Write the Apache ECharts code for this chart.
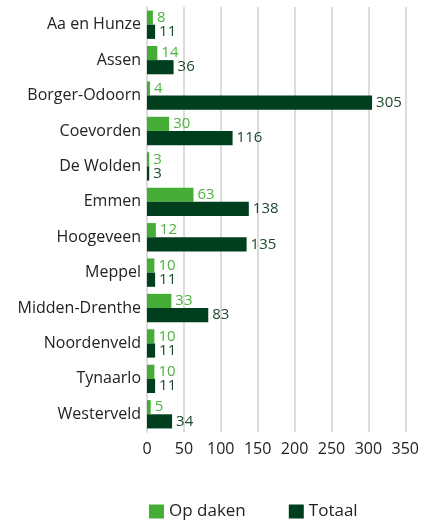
<!DOCTYPE html>
<html>
<head>
<meta charset="utf-8">
<script src="https://cdn.jsdelivr.net/npm/echarts@6/dist/echarts.min.js"></script>
<style>
  html, body { margin: 0; padding: 0; background: #fff; }
  #chart { width: 422px; height: 520px; }
</style>
</head>
<body>
<div id="chart"></div>
<script>
const gemeenten = ['Aa en Hunze', 'Assen', 'Borger-Odoorn', 'Coevorden', 'De Wolden', 'Emmen',
  'Hoogeveen', 'Meppel', 'Midden-Drenthe', 'Noordenveld', 'Tynaarlo', 'Westerveld'];
const opDaken = [8, 14, 4, 30, 3, 63, 12, 10, 33, 10, 10, 5];
const totaal = [11, 36, 305, 116, 3, 138, 135, 11, 83, 11, 11, 34];

const lightGreen = '#45ad35';
const darkGreen = '#003f1d';
const font = 'Open Sans';

const chart = echarts.init(document.getElementById('chart'));
chart.setOption({
  animation: false,
  textStyle: { fontFamily: font },
  grid: { left: 147, right: 15, top: 7, bottom: 88, containLabel: false },
  legend: {
    left: 144,
    top: 498,
    itemWidth: 15,
    itemHeight: 14,
    itemGap: 43,
    icon: 'rect',
    textStyle: { fontSize: 17, color: '#222', fontFamily: font },
    data: ['Op daken', 'Totaal']
  },
  xAxis: {
    type: 'value',
    min: 0,
    max: 350,
    interval: 50,
    axisLine: { show: false },
    axisTick: { show: false },
    axisLabel: { fontSize: 16, color: '#222', margin: 9 },
    splitLine: { lineStyle: { color: '#dcdcdc', width: 2 } }
  },
  yAxis: {
    type: 'category',
    inverse: true,
    data: gemeenten,
    axisLine: { lineStyle: { color: '#dcdcdc', width: 2 } },
    axisTick: { show: false },
    axisLabel: { fontSize: 16, color: '#222', margin: 6 }
  },
  series: [
    {
      name: 'Op daken',
      type: 'bar',
      data: opDaken,
      barGap: '0%',
      barCategoryGap: '20%',
      itemStyle: { color: lightGreen },
      label: { show: true, position: 'right', distance: 4, fontSize: 15, color: '#4cb33e' }
    },
    {
      name: 'Totaal',
      type: 'bar',
      data: totaal,
      itemStyle: { color: darkGreen },
      label: { show: true, position: 'right', distance: 4, fontSize: 15, color: '#1c4a2c' }
    }
  ]
});
</script>
</body>
</html>
